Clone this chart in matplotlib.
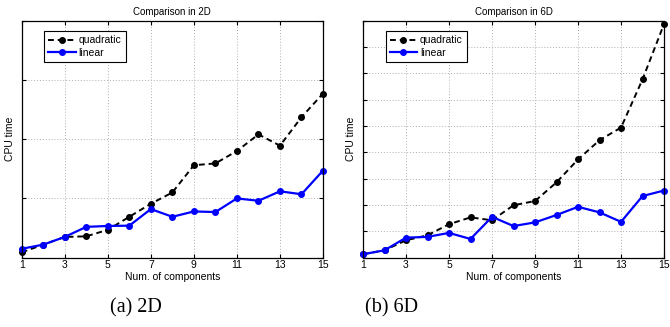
import numpy as np
import matplotlib
matplotlib.use("Agg")
import matplotlib.pyplot as plt

plt.rcParams['font.family'] = ['Liberation Sans', 'DejaVu Sans']

n_comp = np.arange(1, 16)

# 2D case (arbitrary CPU time units)
quad_2d = [0.09, 0.22, 0.35, 0.36, 0.47, 0.69, 0.91, 1.10, 1.56, 1.59, 1.80, 2.08, 1.89, 2.37, 2.77]
lin_2d = [0.15, 0.22, 0.35, 0.52, 0.535, 0.54, 0.82, 0.69, 0.78, 0.77, 1.00, 0.96, 1.12, 1.07, 1.47]

# 6D case
quad_6d = [0.13, 0.28, 0.66, 0.85, 1.27, 1.53, 1.42, 1.99, 2.15, 2.86, 3.73, 4.46, 4.94, 6.77, 8.87]
lin_6d = [0.13, 0.28, 0.76, 0.79, 0.94, 0.71, 1.55, 1.20, 1.34, 1.62, 1.93, 1.72, 1.36, 2.34, 2.55]

titles = ["Comparison in 2D", "Comparison in 6D"]
captions = ["(a) 2D", "(b) 6D"]
ylims = [4, 9]

fig = plt.figure(figsize=(6.7, 3.27), dpi=100)
ax1 = fig.add_axes([0.0324, 0.212, 0.4497, 0.725])
ax2 = fig.add_axes([0.5418, 0.212, 0.4493, 0.725])

for ax, q, l, t, ym, cap, cx in zip([ax1, ax2], [quad_2d, quad_6d], [lin_2d, lin_6d],
                                    titles, ylims, captions, [0.203, 0.584]):
    ax.plot(n_comp, q, color='k', ls=(0, (3, 2)), marker='o', ms=4, lw=1.4,
            label='quadratic', clip_on=False)
    ax.plot(n_comp, l, '-', color='#0000ff', marker='o', ms=4, lw=1.6, label='linear', clip_on=False)
    ax.set_xlim(1, 15)
    ax.set_ylim(0, ym)
    ax.set_xticks(np.arange(1, 16, 2))
    ax.set_yticks(np.arange(0, ym + 1))
    ax.set_yticklabels([])
    ax.grid(True, ls=(0, (1, 2)), color='#b0b0b0', lw=0.7)
    ax.tick_params(direction='in', top=True, right=True, labelsize=7.5, length=3, pad=2)
    for s in ax.spines.values():
        s.set_linewidth(0.9)
    ax.set_title(t, fontsize=7, pad=4)
    ax.set_xlabel("Num. of components", fontsize=7.5, labelpad=1)
    ax.set_ylabel("CPU time", fontsize=7.5, labelpad=3)
    leg = ax.legend(loc='upper left', bbox_to_anchor=(0.075, 0.955), fontsize=7.5,
                    fancybox=False, edgecolor='black', framealpha=1,
                    handlelength=2.6, borderpad=0.4, labelspacing=0.25, handletextpad=0.3,
                    borderaxespad=0)
    leg.get_frame().set_linewidth(0.8)
    fig.text(cx, 0.058, cap, ha='center', va='center', fontsize=14.5, family='Liberation Serif')

fig.savefig("out.png", dpi=100)
